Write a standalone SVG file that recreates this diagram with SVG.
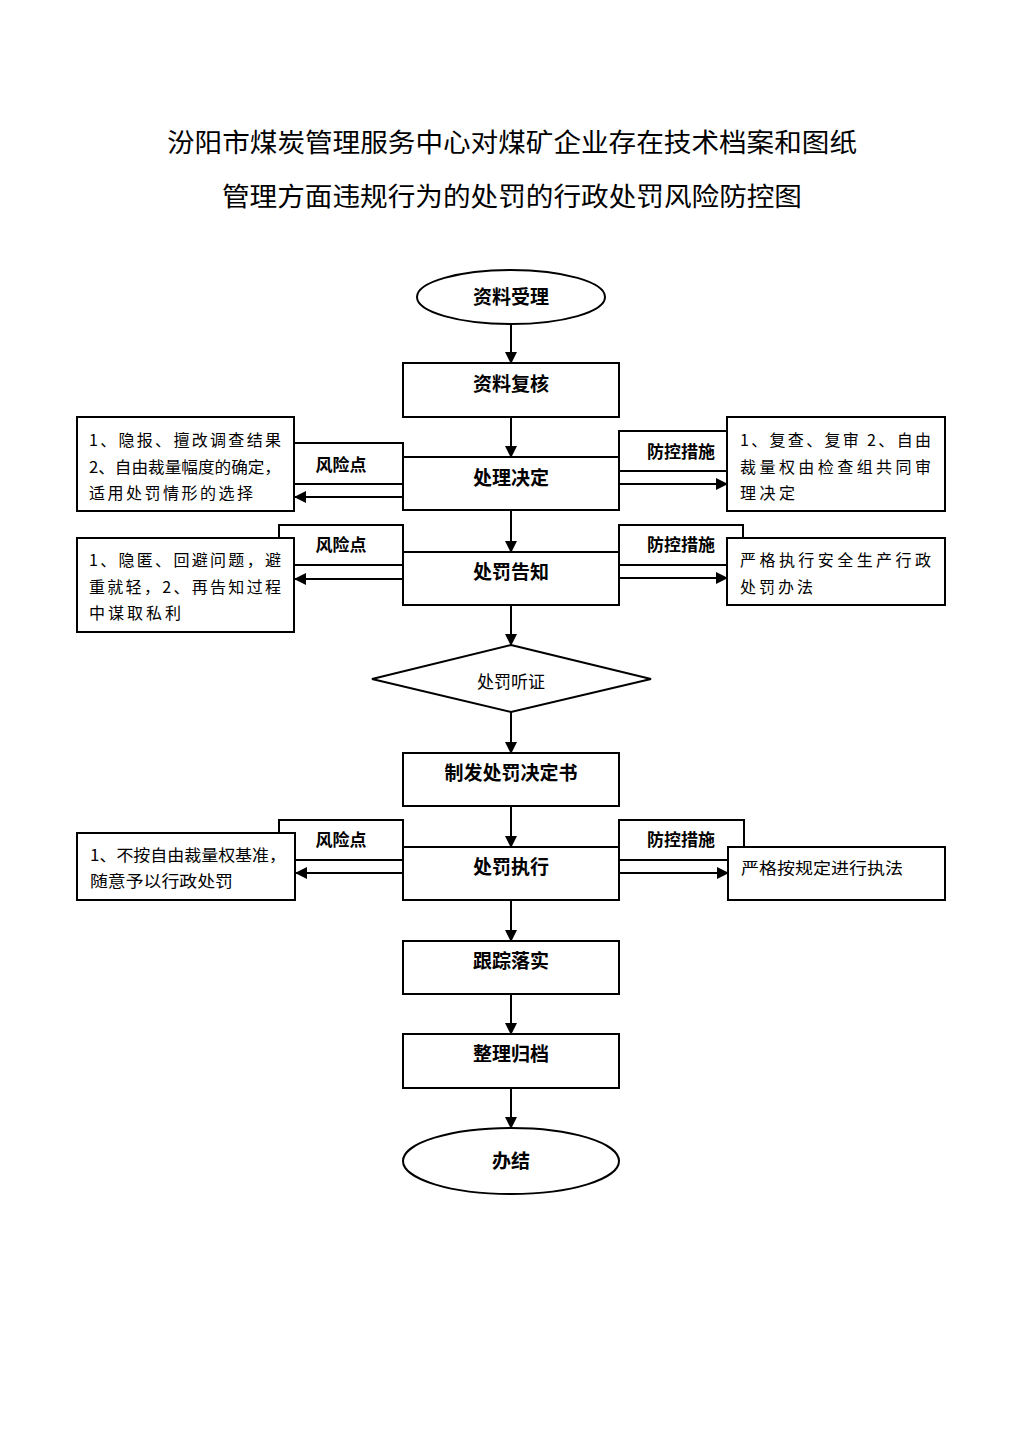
<svg xmlns="http://www.w3.org/2000/svg" width="1024" height="1448" viewBox="0 0 1024 1448">
<defs>
<marker id="ah" markerUnits="userSpaceOnUse" markerWidth="12" markerHeight="12" refX="11" refY="6" orient="auto">
<path d="M0,0 L12,6 L0,12 z" fill="#000"/>
</marker>
<style>
.box{fill:#fff;stroke:#000;stroke-width:2}
.lbl{fill:#fff;stroke:#000;stroke-width:2}
.ln{stroke:#000;stroke-width:2;fill:none}
.arr{stroke:#000;stroke-width:2;fill:none;marker-end:url(#ah)}
.t{font-family:"Noto Sans CJK SC","Noto Sans",sans-serif;fill:#000}
.title{font-size:26px;text-anchor:middle}
.main{font-size:19px;font-weight:bold;text-anchor:middle}
.side{font-size:16px}
.tag{font-size:17px;font-weight:bold;text-anchor:middle}
</style>
</defs>
<rect width="1024" height="1448" fill="#fff"/>
<g id="title">
<text class="t title" x="512" y="152" textLength="690" lengthAdjust="spacingAndGlyphs">汾阳市煤炭管理服务中心对煤矿企业存在技术档案和图纸</text>
<text class="t title" x="512" y="206" textLength="580" lengthAdjust="spacingAndGlyphs">管理方面违规行为的处罚的行政处罚风险防控图</text>
</g>
<g id="tags">
<rect class="lbl" x="279" y="443" width="124" height="41"/>
<text class="t tag" x="341" y="471">风险点</text>
<rect class="lbl" x="619" y="431" width="124" height="40"/>
<text class="t tag" x="681" y="458">防控措施</text>
<rect class="lbl" x="279" y="525" width="124" height="40"/>
<text class="t tag" x="341" y="551">风险点</text>
<rect class="lbl" x="619" y="525" width="124" height="40"/>
<text class="t tag" x="681" y="551">防控措施</text>
<rect class="lbl" x="279" y="820" width="124" height="40"/>
<text class="t tag" x="341" y="846">风险点</text>
<rect class="lbl" x="619" y="820" width="125" height="40"/>
<text class="t tag" x="681" y="846">防控措施</text>
</g>
<g id="connectors">
<line class="arr" x1="511" y1="324" x2="511" y2="363"/>
<line class="arr" x1="511" y1="417" x2="511" y2="457"/>
<line class="arr" x1="511" y1="510" x2="511" y2="552"/>
<line class="arr" x1="511" y1="605" x2="511" y2="645"/>
<line class="arr" x1="511" y1="712" x2="511" y2="753"/>
<line class="arr" x1="511" y1="806" x2="511" y2="847"/>
<line class="arr" x1="511" y1="900" x2="511" y2="941"/>
<line class="arr" x1="511" y1="994" x2="511" y2="1034"/>
<line class="arr" x1="511" y1="1088" x2="511" y2="1128"/>
<line class="arr" x1="403" y1="497" x2="295" y2="497"/>
<line class="arr" x1="619" y1="484" x2="727" y2="484"/>
<line class="arr" x1="403" y1="579" x2="295" y2="579"/>
<line class="arr" x1="619" y1="578" x2="727" y2="578"/>
<line class="arr" x1="403" y1="873" x2="296" y2="873"/>
<line class="arr" x1="619" y1="873" x2="728" y2="873"/>
</g>
<g id="n-start">
<ellipse class="box" cx="511" cy="297" rx="94" ry="27"/>
<text class="t main" x="511" y="304">资料受理</text>
</g>
<g id="n-review">
<rect class="box" x="403" y="363" width="216" height="54"/>
<text class="t main" x="511" y="391">资料复核</text>
</g>
<g id="n-decide">
<rect class="box" x="403" y="457" width="216" height="53"/>
<text class="t main" x="511" y="485">处理决定</text>
</g>
<g id="n-notify">
<rect class="box" x="403" y="552" width="216" height="53"/>
<text class="t main" x="511" y="579">处罚告知</text>
</g>
<g id="n-hearing">
<polygon class="box" points="511,645 651,679 511,712 372,679"/>
<text class="t main" x="511" y="688" style="font-weight:normal;font-size:17px">处罚听证</text>
</g>
<g id="n-issue">
<rect class="box" x="403" y="753" width="216" height="53"/>
<text class="t main" x="511" y="780">制发处罚决定书</text>
</g>
<g id="n-execute">
<rect class="box" x="403" y="847" width="216" height="53"/>
<text class="t main" x="511" y="874">处罚执行</text>
</g>
<g id="n-track">
<rect class="box" x="403" y="941" width="216" height="53"/>
<text class="t main" x="511" y="968">跟踪落实</text>
</g>
<g id="n-archive">
<rect class="box" x="403" y="1034" width="216" height="54"/>
<text class="t main" x="511" y="1061">整理归档</text>
</g>
<g id="n-end">
<ellipse class="box" cx="511" cy="1161" rx="108" ry="33"/>
<text class="t main" x="511" y="1168">办结</text>
</g>
<g id="risk1">
<rect class="box" x="77" y="417" width="217" height="94"/>
<text class="t side" x="89" y="446" textLength="192" lengthAdjust="spacing">1、隐报、擅改调查结果</text>
<text class="t side" x="89" y="473" textLength="192" lengthAdjust="spacingAndGlyphs">2、自由裁量幅度的确定，</text>
<text class="t side" x="89" y="499" textLength="164" lengthAdjust="spacing">适用处罚情形的选择</text>
</g>
<g id="ctrl1">
<rect class="box" x="727" y="417" width="218" height="94"/>
<text class="t side" x="740" y="446" textLength="191" lengthAdjust="spacing">1、复查、复审 2、自由</text>
<text class="t side" x="740" y="473" textLength="191" lengthAdjust="spacing">裁量权由检查组共同审</text>
<text class="t side" x="740" y="499" textLength="55" lengthAdjust="spacing">理决定</text>
</g>
<g id="risk2">
<rect class="box" x="77" y="538" width="217" height="94"/>
<text class="t side" x="89" y="566" textLength="192" lengthAdjust="spacing">1、隐匿、回避问题，避</text>
<text class="t side" x="89" y="593" textLength="192" lengthAdjust="spacing">重就轻，2、再告知过程</text>
<text class="t side" x="89" y="619" textLength="92" lengthAdjust="spacing">中谋取私利</text>
</g>
<g id="ctrl2">
<rect class="box" x="727" y="538" width="218" height="67"/>
<text class="t side" x="740" y="566" textLength="191" lengthAdjust="spacing">严格执行安全生产行政</text>
<text class="t side" x="740" y="593" textLength="73" lengthAdjust="spacing">处罚办法</text>
</g>
<g id="risk3">
<rect class="box" x="77" y="833" width="218" height="67"/>
<text class="t side" x="90" y="861" textLength="196" lengthAdjust="spacingAndGlyphs">1、不按自由裁量权基准，</text>
<text class="t side" x="90" y="887" textLength="143" lengthAdjust="spacingAndGlyphs">随意予以行政处罚</text>
</g>
<g id="ctrl3">
<rect class="box" x="728" y="847" width="217" height="53"/>
<text class="t side" x="741" y="874" textLength="162" lengthAdjust="spacingAndGlyphs">严格按规定进行执法</text>
</g>
</svg>
